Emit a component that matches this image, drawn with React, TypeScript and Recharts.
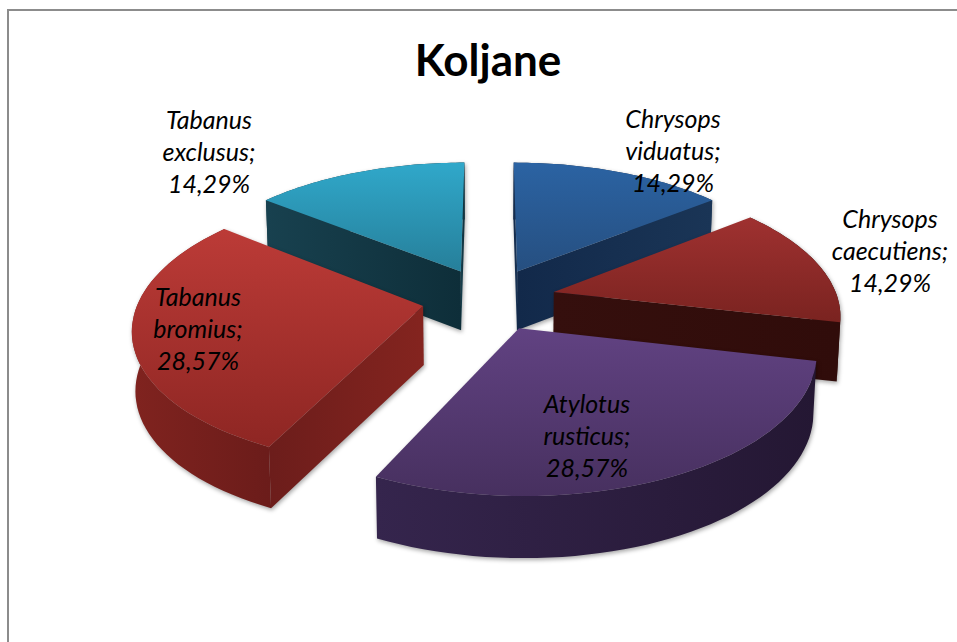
import React from 'react';
import { PieChart, Pie } from 'recharts';

const CHART_TITLE = 'Koljane';
const species = ['Tabanus exclusus', 'Chrysops viduatus', 'Chrysops caecutiens', 'Atylotus rusticus', 'Tabanus bromius'];
const shares = [14.29, 14.29, 14.29, 28.57, 28.57];
const chartData = species.map((name, i) => ({ name, value: shares[i] }));

const W = 957, H = 642;
const CX = 489, CY = 299, R = 284;
const TILT = 0.468, PERSP = 0.15, EXPLODE = 0.236;

const STYLE: Record<string, any> = {
  'Tabanus exclusus': { top: ['#30a8ca', '#267f9a'], cut: ['#18414f', '#0e2e39'], arc: ['#18414f', '#0e2e39'] },
  'Chrysops viduatus': { top: ['#2b63a3', '#264f80'], cut: ['#12294a', '#1a3556'], arc: ['#12294a', '#1a3556'] },
  'Chrysops caecutiens': { top: ['#9f3130', '#7a2320'], cut: ['#350f0d', '#300c0a'], arc: ['#350f0d', '#300c0a'] },
  'Atylotus rusticus': { top: ['#614282', '#47305f'], cut: ['#2e2042', '#241833'], arc: ['#35254d', '#241733'] },
  'Tabanus bromius': { top: ['#bc3b37', '#8e2623'], cut: ['#6c1d1b', '#84241f'], arc: ['#80231f', '#6b1c1a'] },
};

const LABELS: Record<string, [number, number]> = {
  'Tabanus exclusus': [209, 129],
  'Chrysops viduatus': [673, 128],
  'Chrysops caecutiens': [890, 228],
  'Atylotus rusticus': [587, 413],
  'Tabanus bromius': [198, 306],
};

const rad = (d: number) => (d * Math.PI) / 180;

const project = (wx: number, wz: number, cx: number, cy: number, r: number) => {
  const s = 1 / (1 - PERSP * wz);
  return { x: cx + r * wx * s, y: cy + r * TILT * wz * s, s };
};
const dropPoint = (p: any, cx: number) => ({
  x: cx + (p.x - cx) * 0.99,
  y: p.y + 45 + 14 * p.s,
});
const toPath = (pts: any[]) =>
  pts.map((p, i) => `${i ? 'L' : 'M'}${p.x.toFixed(1)} ${p.y.toFixed(1)}`).join(' ') + ' Z';

const Slice3D = (props: any) => {
  const { cx, cy, outerRadius, startAngle, endAngle, name } = props;
  const st = STYLE[name];
  const id = name.replace(' ', '-');
  const phiA = 90 - startAngle;
  const phiB = 90 - endAngle;
  const phiM = (phiA + phiB) / 2;
  const ox = EXPLODE * Math.sin(rad(phiM));
  const oz = -EXPLODE * Math.cos(rad(phiM));
  const at = (rr: number, phi: number) =>
    project(ox + rr * Math.sin(rad(phi)), oz - rr * Math.cos(rad(phi)), cx, cy, outerRadius);
  const apex = at(0, phiA);
  const rim: any[] = [];
  const steps = 48;
  for (let i = 0; i <= steps; i++) rim.push(at(1, phiA + ((phiB - phiA) * i) / steps));
  const first = rim[0];
  const last = rim[steps];
  const wall = (a: any, b: any) => toPath([a, b, dropPoint(b, cx), dropPoint(a, cx)]);
  const arcWall = toPath([...rim, ...rim.map((p) => dropPoint(p, cx)).reverse()]);
  return (
    <g style={{ filter: 'drop-shadow(1px 2px 2px rgba(0,0,0,0.35))' }}>
      <defs>
        <linearGradient id={`top-${id}`} x1="0" y1="0" x2="0" y2="1">
          <stop offset="0" stopColor={st.top[0]} />
          <stop offset="1" stopColor={st.top[1]} />
        </linearGradient>
        <linearGradient id={`cut-${id}`} x1="0" y1="0" x2="1" y2="0">
          <stop offset="0" stopColor={st.cut[0]} />
          <stop offset="1" stopColor={st.cut[1]} />
        </linearGradient>
        <linearGradient id={`arc-${id}`} x1="0" y1="0" x2="1" y2="0">
          <stop offset="0" stopColor={st.arc[0]} />
          <stop offset="1" stopColor={st.arc[1]} />
        </linearGradient>
      </defs>
      <path d={arcWall} fill={`url(#arc-${id})`} />
      {first.x < apex.x && <path d={wall(apex, first)} fill={`url(#cut-${id})`} />}
      {last.x > apex.x && <path d={wall(apex, last)} fill={`url(#cut-${id})`} />}
      <path d={toPath([apex, ...rim])} fill={`url(#top-${id})`} />
    </g>
  );
};

const renderLabel = (props: any) => {
  const { name, value } = props;
  const [x, y] = LABELS[name];
  const [genus, epithet] = name.split(' ');
  const lines = [genus, `${epithet};`, `${value.toFixed(2).replace('.', ',')}%`];
  return (
    <text x={x} y={y} textAnchor="middle" fontFamily="Lato" fontStyle="italic" fontSize={25} fill="#000">
      {lines.map((l, i) => (
        <tspan key={i} x={x} dy={i ? 32 : 0}>
          {l}
        </tspan>
      ))}
    </text>
  );
};

export default function App() {
  return (
    <div style={{ position: 'fixed', left: 0, top: 0, width: W, height: H, overflow: 'hidden', background: '#fff' }}>
      <div
        style={{
          position: 'absolute',
          left: 7,
          top: 9,
          width: W,
          height: H,
          borderLeft: '2px solid #8c8c8c',
          borderTop: '2px solid #8c8c8c',
        }}
      />
      <div style={{ position: 'absolute', left: 0, top: 0 }}>
        <PieChart width={W} height={H} margin={{ top: 0, right: 0, bottom: 0, left: 0 }} accessibilityLayer={false}>
          <text x={488} y={76} textAnchor="middle" fontFamily="Lato" fontWeight={700} fontSize={44} fill="#000">
            {CHART_TITLE}
          </text>
          <Pie
            data={chartData}
            dataKey="value"
            nameKey="name"
            cx={CX}
            cy={CY}
            innerRadius={0}
            outerRadius={R}
            startAngle={141.43}
            endAngle={-218.57}
            paddingAngle={0}
            stroke="none"
            shape={Slice3D}
            label={renderLabel}
            labelLine={false}
            isAnimationActive={false}
            rootTabIndex={-1}
          />
        </PieChart>
      </div>
    </div>
  );
}
